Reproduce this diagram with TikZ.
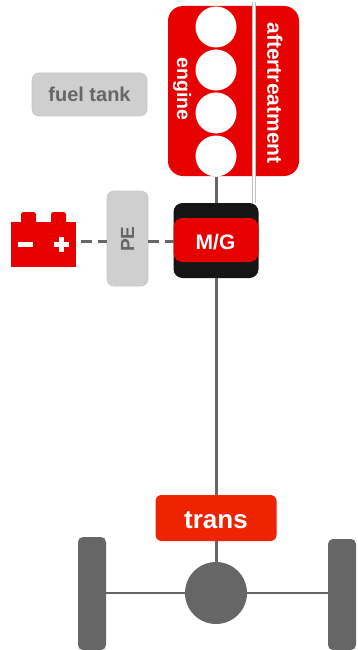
\documentclass[tikz,border=0pt]{standalone}
\usepackage{fontspec}
\setmainfont{Liberation Sans}
\definecolor{partred}{HTML}{E60000}
\definecolor{transred}{HTML}{EE2400}
\definecolor{partgray}{HTML}{666666}
\definecolor{boxgray}{HTML}{CFCFCF}
\definecolor{mgblack}{HTML}{151515}
\begin{document}
\begin{tikzpicture}[
    x=1pt, y=-1pt,
    box/.style={inner sep=0pt, outer sep=0pt, rounded corners=#1},
    box/.default=7pt,
    red box/.style={box=15pt, fill=partred, minimum width=131pt, minimum height=170pt},
    gray box/.style={box=7pt, fill=boxgray, draw=black!22, line width=0.6pt, text=partgray, font=\bfseries},
    cylinder/.style={circle, fill=white, inner sep=0pt, outer sep=0pt, minimum size=41pt},
    wheel/.style={box=5pt, fill=partgray, minimum width=28pt, minimum height=112pt},
    white label/.style={inner sep=0pt, text=white, font=\bfseries},
    shaft/.style={draw=partgray, line width=3pt},
    axle/.style={draw=partgray, line width=2.6pt},
    wire/.style={draw=partgray, line width=3pt, dash pattern=on 11pt off 6pt},
    terminal/.style={box=2.5pt, fill=partred, minimum width=15pt, minimum height=12pt}
    ]
\useasboundingbox (0,0) rectangle (357,650);
% engine and aftertreatment
\node[red box] (engine) at (233.5,91) {};
\node[cylinder] (cylA) at (216,27) {};
\node[cylinder] (cylB) at (216,70) {};
\node[cylinder] (cylC) at (216,113) {};
\node[cylinder] (cylD) at (216,156) {};
\node[white label, rotate=-90, font=\bfseries\fontsize{19.5}{20}\selectfont] (enginetext) at (182,89) {engine};
\node[white label, rotate=-90, font=\fontsize{21}{24}\selectfont\bfseries] (aftertext) at (275,93) {aftertreatment};
% fuel tank, PE
\node[gray box, minimum width=115pt, minimum height=43pt, font=\bfseries\fontsize{20}{22}\selectfont] (tank) at (89.5,94.5) {fuel tank};
\node[gray box, minimum width=41pt, minimum height=95pt] (pe) at (127.5,238.5) {};
\node[inner sep=0pt, rotate=90, text=partgray, font=\bfseries\fontsize{19}{20}\selectfont] (petext) at (127.5,239) {PE};
% M/G
\node[box=9pt, fill=mgblack, minimum width=85pt, minimum height=75pt] (mg) at (216,240.5) {};
\node[box=9pt, fill=partred, minimum width=85pt, minimum height=44pt] (mgband) at (216,240) {};
\node[white label, font=\bfseries\fontsize{21}{22}\selectfont] (mgtext) at (215.5,242) {M/G};
% battery
\node[fill=partred, inner sep=0pt, outer sep=0pt, minimum width=65pt, minimum height=45pt] (battery) at (43.5,244.5) {};
\node[terminal, anchor=south] (termA) at (28.5,224) {};
\node[terminal, anchor=south] (termB) at (58.5,224) {};
\fill[white] (18,241.5) rectangle (33,246.5);
\fill[white] (53.5,241.5) rectangle (68.5,246.5);
\fill[white] (58.5,236.5) rectangle (63.5,251.5);
% trans, diff, wheels
\node[box=6pt, fill=transred, minimum width=121pt, minimum height=46pt] (trans) at (216,518) {};
\node[white label, font=\bfseries\fontsize{26}{28}\selectfont] (transtext) at (216,520) {trans};
\node[circle, fill=partgray, inner sep=0pt, outer sep=0pt, minimum size=62pt] (diff) at (216,593) {};
\node[wheel, minimum height=113pt] (leftwheel) at (92,593.5) {};
\node[wheel, minimum height=111pt] (rightwheel) at (342,594.5) {};
% connectors
\draw[shaft] (cylD) -- (mg);
\draw[shaft] (mg) -- (trans);
\draw[shaft] (trans) -- (diff);
\draw[axle] (diff) -- (diff -| leftwheel.east);
\draw[axle] (diff) -- (diff -| rightwheel.west);
\coordinate (wiretop) at (254,2);
\coordinate (wireend) at (254,203);
\draw[black!25, line width=3.6pt] (wiretop) -- (wireend);
\draw[white, line width=2.2pt] (wiretop) -- (wireend);
\coordinate (wirestart) at (81,241);
\draw[wire] (wirestart) -- (wirestart -| pe.west);
\draw[wire] (pe.east |- wirestart) -- (mg.west |- wirestart);
\end{tikzpicture}
\end{document}
